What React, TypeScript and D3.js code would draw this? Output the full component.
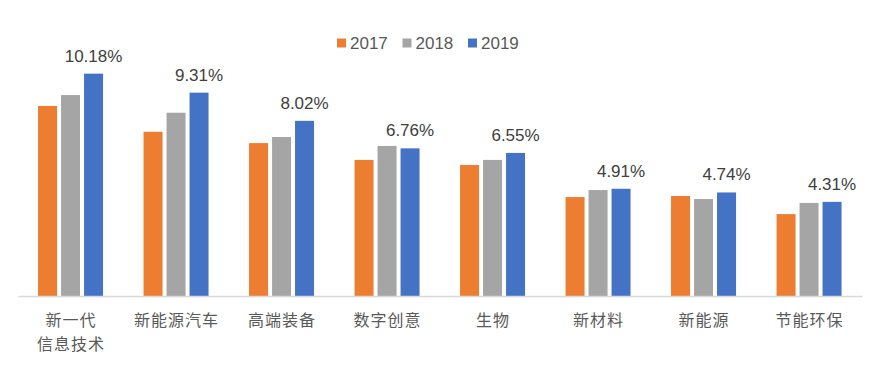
import React from "react";
import * as d3 from "d3";

const categories = [["新一代", "信息技术"], ["新能源汽车"], ["高端装备"], ["数字创意"], ["生物"], ["新材料"], ["新能源"], ["节能环保"]];
const seriesNames = ["2017", "2018", "2019"];
const v2017 = [8.7, 7.52, 7.0, 6.23, 6.0, 4.53, 4.58, 3.75];
const v2018 = [9.2, 8.39, 7.28, 6.87, 6.23, 4.85, 4.44, 4.26];
const v2019 = [10.18, 9.31, 8.02, 6.76, 6.55, 4.91, 4.74, 4.31];
const labels2019 = ["10.18%", "9.31%", "8.02%", "6.76%", "6.55%", "4.91%", "4.74%", "4.31%"];
const colors = ["#ED7D31", "#A5A5A5", "#4472C4"];

const W = 876, H = 381;

export default function App() {
  const series = [v2017, v2018, v2019];
  const idx = categories.map((_, i) => String(i));
  const x0 = d3.scaleBand<string>().domain(idx).range([17.8, 861.8]).paddingInner(0.384).paddingOuter(0.192);
  const x1 = d3.scaleBand<string>().domain(seriesNames).range([0, x0.bandwidth()]).paddingInner(0.174).paddingOuter(0);
  const y = d3.scaleLinear().domain([0, 12]).range([296, 33.9]);
  const font = "Arial, 'Liberation Sans', sans-serif";
  const cjk = "'Noto Sans CJK SC', sans-serif";
  const legendX = [337, 402.5, 468];
  return (
    <svg width={W} height={H} style={{ position: "absolute", left: 0, top: 0, background: "#fff" }}>
      <rect width={W} height={H} fill="#fff" />
      {seriesNames.map((s, si) => (
        <g key={s}>
          <rect x={legendX[si]} y={38.5} width={9} height={9} fill={colors[si]} />
          <text x={legendX[si] + 13} y={49} fontFamily={font} fontSize={17} fill="#595959">{s}</text>
        </g>
      ))}
      {idx.map((c, ci) => (
        <g key={c} transform={`translate(${x0(c)},0)`}>
          {seriesNames.map((s, si) => (
            <rect key={s} x={x1(s)} y={y(series[si][ci])} width={x1.bandwidth()} height={296 - y(series[si][ci])} fill={colors[si]} />
          ))}
          <text x={(x1("2019") as number) + x1.bandwidth() / 2} y={y(v2019[ci]) - 12} textAnchor="middle" fontFamily={font} fontSize={17} fill="#404040">{labels2019[ci]}</text>
        </g>
      ))}
      <line x1={18.3} x2={862.7} y1={296.5} y2={296.5} stroke="#D9D9D9" strokeWidth={1.5} />
      {idx.map((c, ci) => (
        <text key={c} textAnchor="middle" fontFamily={cjk} fontSize={16} letterSpacing={1} fill="#595959">
          {categories[ci].map((line, li) => (
            <tspan key={li} x={(x0(c) as number) + x0.bandwidth() / 2 + 0.5} y={326 + li * 23.5}>{line}</tspan>
          ))}
        </text>
      ))}
    </svg>
  );
}
